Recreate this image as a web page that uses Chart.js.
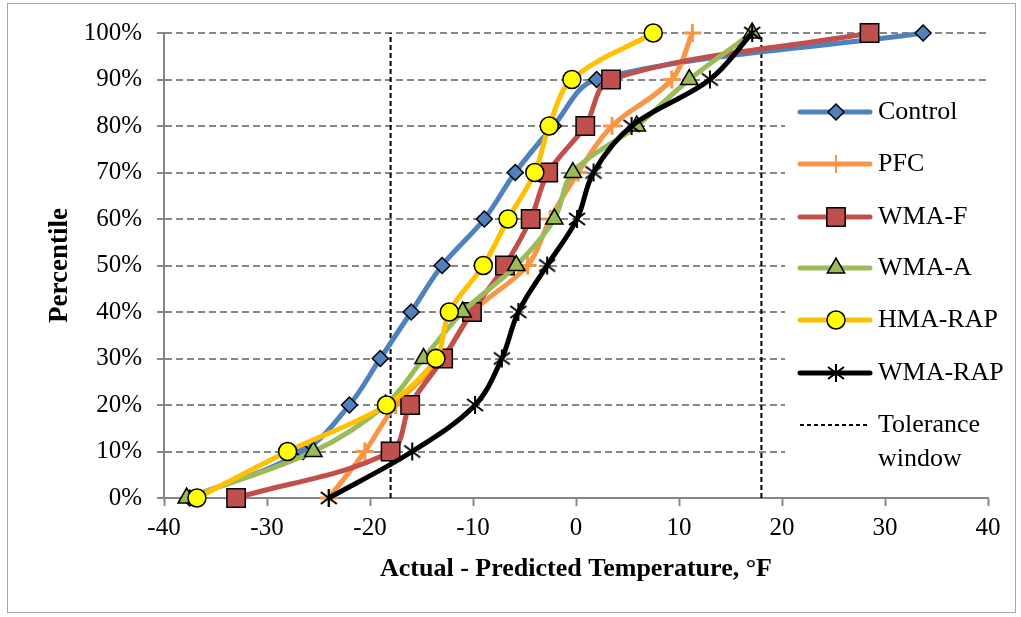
<!DOCTYPE html>
<html>
<head>
<meta charset="utf-8">
<script src="https://cdn.jsdelivr.net/npm/chart.js@4.4.1/dist/chart.umd.min.js"></script>
<style>
  html, body { margin: 0; padding: 0; background: #fff; }
  #wrap { width: 1021px; height: 617px; }
</style>
</head>
<body>
<div id="wrap"><canvas id="chart" width="1021" height="617"></canvas></div>
<script>
// percentiles (y) and the actual - predicted temperature (x) of each mix
const percentiles = [0, 10, 20, 30, 40, 50, 60, 70, 80, 90, 100];
const control = [-37.5, -26.5, -22.0, -19.0, -16.0, -13.0, -8.9, -5.9, -2.2, 2.0, 33.7];
const pfc     = [-24.0, -20.5, -17.5, -13.0, -10.0, -4.7, -2.5, 0.2, 3.5, 9.3, 11.3];
const wmaF    = [-33.0, -18.0, -16.1, -12.9, -10.1, -6.9, -4.4, -2.7, 0.9, 3.4, 28.5];
const wmaA    = [-37.8, -25.5, -18.5, -14.8, -11.0, -5.8, -2.1, -0.3, 5.9, 11.0, 17.1];
const hmaRap  = [-36.8, -28.0, -18.4, -13.6, -12.3, -9.0, -6.6, -4.0, -2.6, -0.4, 7.5];
const wmaRap  = [-24.0, -15.9, -9.8, -7.2, -5.6, -2.8, 0.1, 1.7, 5.4, 13.0, 17.1];
const tolerance = [-18, 18];

const FONT = 'Liberation Serif';
const AXIS = '#868686';

// asterisk marker like the spreadsheet one (X plus a vertical bar)
function makeAsterisk() {
    const c = document.createElement('canvas');
    c.width = 20; c.height = 20;
    const g = c.getContext('2d');
    g.strokeStyle = '#000';
    g.lineWidth = 2;
    g.beginPath();
    g.moveTo(10, 1); g.lineTo(10, 19);
    g.moveTo(2, 4); g.lineTo(18, 16);
    g.moveTo(18, 4); g.lineTo(2, 16);
    g.stroke();
    return c;
}
const asterisk = makeAsterisk();

function pts(xs) {
    return xs.map((x, i) => ({x: x, y: percentiles[i]}));
}

const series = [
    {label: 'Control', xs: control, line: '#4F81BD', fill: '#4F81BD', border: '#000', style: 'rectRot', r: 8},
    {label: 'PFC', xs: pfc, line: '#F79646', fill: '#F79646', border: '#F79646', style: 'cross', r: 9, bw: 3},
    {label: 'WMA-F', xs: wmaF, line: '#C0504D', fill: '#C0504D', border: '#000', style: 'rect', r: 13},
    {label: 'WMA-A', xs: wmaA, line: '#9BBB59', fill: '#9BBB59', border: '#000', style: 'triangle', r: 10},
    {label: 'HMA-RAP', xs: hmaRap, line: '#FFC000', fill: '#FFFF00', border: '#000', style: 'circle', r: 9},
    {label: 'WMA-RAP', xs: wmaRap, line: '#000000', fill: '#000', border: '#000', style: asterisk, r: 10}
];

const datasets = series.map((s, i) => ({
    label: s.label,
    data: pts(s.xs),
    borderColor: s.line,
    borderWidth: 5,
    tension: 0.35,
    clip: false,
    pointStyle: s.style,
    pointRadius: s.r,
    pointBackgroundColor: s.fill,
    pointBorderColor: s.border,
    pointBorderWidth: s.bw || 1.5,
    order: 6 - i
}));

tolerance.forEach(t => {
    datasets.push({
        label: 'Tolerance window',
        data: [{x: t, y: 0}, {x: t, y: 100}],
        borderColor: '#000',
        borderWidth: 2,
        borderDash: [5, 3],
        pointRadius: 0,
        order: 10
    });
});

// background and outer frame
const framePlugin = {
    id: 'frame',
    beforeDraw(chart) {
        const ctx = chart.ctx;
        ctx.save();
        ctx.fillStyle = '#fff';
        ctx.fillRect(0, 0, chart.width, chart.height);
        ctx.strokeStyle = '#A6A6A6';
        ctx.lineWidth = 1;
        ctx.strokeRect(7.5, 3.5, 1008, 609);
        ctx.restore();
    }
};

// legend box inside the plot on the right
const legendPlugin = {
    id: 'boxLegend',
    afterDraw(chart) {
        const ctx = chart.ctx;
        ctx.save();
        ctx.fillStyle = '#fff';
        ctx.fillRect(785, 90, 202, 390);
        const x0 = 800, x1 = 870, xm = 836, tx = 878;
        const rows = [112, 164, 217, 268, 320, 373];
        ctx.font = '26px "' + FONT + '"';
        ctx.textBaseline = 'middle';
        series.forEach((s, i) => {
            const y = rows[i];
            ctx.strokeStyle = s.line;
            ctx.lineWidth = 5;
            ctx.lineCap = 'round';
            ctx.setLineDash([]);
            ctx.beginPath();
            ctx.moveTo(x0, y); ctx.lineTo(x1, y);
            ctx.stroke();
            ctx.lineCap = 'butt';
            ctx.fillStyle = s.fill;
            ctx.strokeStyle = s.border;
            ctx.lineWidth = s.bw ? 2 : 1.5;
            Chart.helpers.drawPoint(ctx, {
                pointStyle: s.style, radius: s.r, borderWidth: s.bw ? 2 : 1.5, rotation: 0
            }, xm, y);
            ctx.fillStyle = '#000';
            ctx.fillText(s.label, tx, y);
        });
        ctx.strokeStyle = '#000';
        ctx.lineWidth = 2;
        ctx.setLineDash([4, 3]);
        ctx.beginPath();
        ctx.moveTo(x0, 425); ctx.lineTo(x1, 425);
        ctx.stroke();
        ctx.setLineDash([]);
        ctx.fillStyle = '#000';
        ctx.fillText('Tolerance', tx, 425);
        ctx.fillText('window', tx, 459);
        ctx.restore();
    }
};

new Chart(document.getElementById('chart').getContext('2d'), {
    type: 'line',
    data: {datasets: datasets},
    options: {
        responsive: false,
        animation: false,
        layout: {padding: {left: 8, right: 33, top: 33, bottom: 4}},
        plugins: {legend: {display: false}, tooltip: {enabled: false}},
        scales: {
            x: {
                type: 'linear',
                min: -40, max: 40,
                afterFit(scale) { scale.height = 115; },
                ticks: {stepSize: 10, color: '#000', padding: 7, font: {family: FONT, size: 25}},
                grid: {drawOnChartArea: false, tickLength: 8, tickColor: AXIS, tickWidth: 2},
                border: {color: AXIS, width: 2},
                title: {
                    display: true,
                    text: 'Actual - Predicted Temperature, °F',
                    color: '#000',
                    font: {family: FONT, size: 26, weight: 'bold'},
                    padding: {top: 0, bottom: 28}
                }
            },
            y: {
                type: 'linear',
                min: 0, max: 100,
                afterFit(scale) { scale.width = 156; },
                ticks: {
                    stepSize: 10, color: '#000', padding: 15,
                    font: {family: FONT, size: 25},
                    callback: v => v + '%'
                },
                grid: {
                    color: c => (c.tick && c.tick.value === 0) ? 'rgba(0,0,0,0)' : AXIS,
                    lineWidth: 2,
                    tickLength: 7, tickColor: AXIS, tickWidth: 2
                },
                border: {color: AXIS, width: 2, dash: [7, 4]},
                title: {
                    display: true,
                    text: 'Percentile',
                    color: '#000',
                    font: {family: FONT, size: 27, weight: 'bold'},
                    padding: {top: 36, bottom: 0}
                }
            }
        }
    },
    plugins: [framePlugin, legendPlugin]
});
</script>
</body>
</html>
